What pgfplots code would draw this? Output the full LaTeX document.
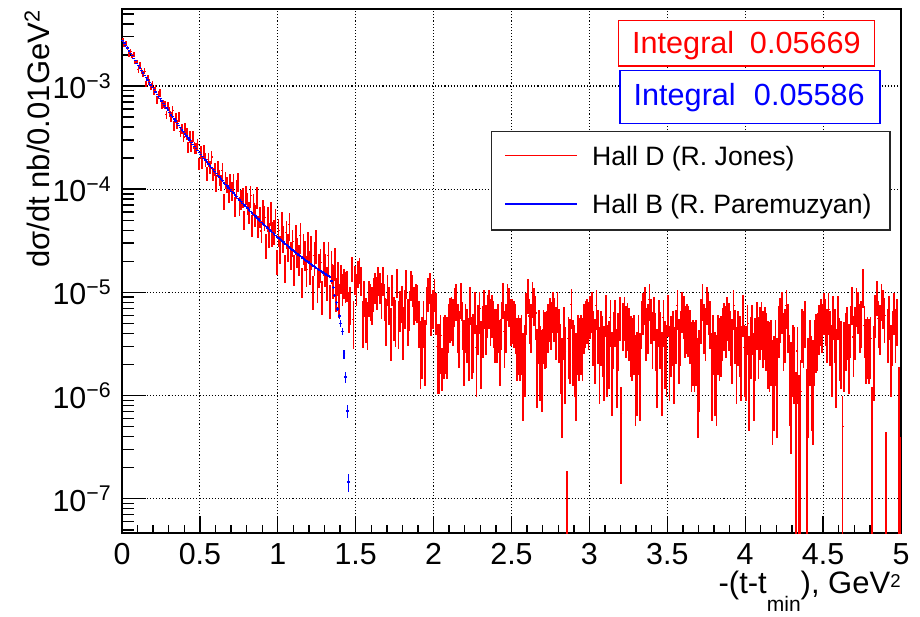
\documentclass[border=0pt]{standalone}
\usepackage{pgfplots}
\pgfplotsset{compat=1.18}
\usepackage{pgfplotstable}
\usetikzlibrary{plotmarks}
\usepackage{fontspec}
\setmainfont{Liberation Sans}
\definecolor{rootred}{RGB}{255,0,0}
\definecolor{rootblue}{RGB}{0,0,255}
\pgfplotstableread{
x v e
0.005 2.80e-3 1.4e-4
0.015 2.50e-3 1.25e-4
0.025 2.61e-3 1.3e-4
0.035 2.34e-3 1.17e-4
0.045 2.03e-3 1.0e-4
0.055 2.15e-3 1.07e-4
0.065 1.95e-3 9.7e-5
0.075 2.03e-3 1.0e-4
0.085 1.71e-3 8.5e-5
0.095 1.70e-3 8.5e-5
0.105 1.45e-3 1.0e-4
0.115 1.585e-3 1.1e-4
0.125 1.41e-3 9.9e-5
0.135 1.30e-3 9.1e-5
0.145 1.39e-3 9.7e-5
0.155 1.04e-3 7.3e-5
0.165 1.19e-3 8.3e-5
0.175 1.095e-3 7.7e-5
0.185 9.75e-4 6.8e-5
0.195 1.047e-3 7.3e-5
0.205 8.98e-4 8.1e-5
0.215 9.39e-4 8.5e-5
0.225 7.35e-4 6.6e-5
0.235 8.26e-4 7.4e-5
0.245 8.59e-4 7.7e-5
0.255 6.55e-4 5.9e-5
0.265 6.72e-4 6.0e-5
0.275 6.63e-4 6.0e-5
0.285 5.25e-4 4.7e-5
0.295 6.36e-4 5.7e-5
0.305 5.67e-4 6.2e-5
0.315 5.00e-4 5.5e-5
0.325 5.76e-4 6.3e-5
0.335 4.16e-4 4.6e-5
0.345 4.92e-4 5.4e-5
0.355 4.26e-4 4.7e-5
0.365 5.06e-4 5.6e-5
0.375 3.61e-4 4.0e-5
0.385 3.82e-4 4.2e-5
0.395 3.20e-4 3.5e-5
0.405 3.83e-4 5.0e-5
0.415 3.45e-4 4.5e-5
0.425 2.56e-4 3.3e-5
0.435 3.22e-4 4.2e-5
0.445 2.63e-4 3.4e-5
0.455 3.26e-4 4.2e-5
0.465 2.51e-4 3.3e-5
0.475 2.49e-4 3.2e-5
0.485 2.72e-4 3.5e-5
0.495 1.78e-4 2.3e-5
0.505 2.28e-4 3.4e-5
0.515 1.84e-4 2.8e-5
0.525 2.36e-4 3.5e-5
0.535 1.94e-4 2.9e-5
0.545 1.42e-4 2.1e-5
0.555 1.94e-4 2.9e-5
0.565 1.63e-4 2.4e-5
0.575 2.05e-4 3.1e-5
0.585 1.41e-4 2.1e-5
0.595 1.57e-4 2.4e-5
0.605 1.14e-4 2.1e-5
0.615 1.59e-4 2.9e-5
0.625 1.31e-4 2.4e-5
0.635 1.17e-4 2.1e-5
0.645 1.51e-4 2.7e-5
0.655 7.63e-5 1.4e-5
0.665 1.235e-4 2.2e-5
0.675 1.11e-4 2.0e-5
0.685 9.0e-5 1.6e-5
0.695 1.187e-4 2.1e-5
0.705 9.64e-5 2.0e-5
0.715 1.156e-4 2.4e-5
0.725 6.93e-5 1.5e-5
0.735 1.013e-4 2.1e-5
0.745 1.18e-4 2.5e-5
0.755 6.9e-5 1.45e-5
0.765 8.02e-5 1.7e-5
0.775 8.4e-5 1.76e-5
0.785 5.06e-5 1.06e-5
0.795 8.88e-5 1.86e-5
0.805 7.42e-5 1.78e-5
0.815 6.01e-5 1.44e-5
0.825 8.65e-5 2.08e-5
0.835 4.53e-5 1.09e-5
0.845 7.17e-5 1.72e-5
0.855 5.64e-5 1.35e-5
0.865 8.48e-5 2.03e-5
0.875 4.47e-5 1.07e-5
0.885 5.48e-5 1.31e-5
0.895 3.93e-5 9.4e-6
0.905 6.21e-5 1.68e-5
0.915 5.36e-5 1.45e-5
0.925 2.91e-5 7.9e-6
0.935 5.27e-5 1.42e-5
0.945 3.68e-5 9.9e-6
0.955 5.96e-5 1.61e-5
0.965 3.78e-5 1.02e-5
0.975 3.99e-5 1.08e-5
0.985 5.01e-5 1.35e-5
0.995 2.02e-5 5.5e-6
1.005 3.95e-5 1.19e-5
1.015 2.68e-5 8.0e-6
1.025 4.65e-5 1.39e-5
1.035 3.41e-5 1.02e-5
1.045 1.77e-5 5.3e-6
1.055 3.78e-5 1.13e-5
1.065 2.85e-5 8.6e-6
1.075 4.54e-5 1.36e-5
1.085 2.35e-5 7.0e-6
1.095 3.12e-5 9.4e-6
1.105 1.72e-5 5.7e-6
1.115 3.41e-5 1.13e-5
1.125 2.56e-5 8.4e-6
1.135 2.16e-5 7.1e-6
1.145 3.54e-5 1.17e-5
1.155 1.31e-5 4.3e-6
1.165 2.75e-5 9.1e-6
1.175 2.39e-5 7.9e-6
1.185 1.68e-5 5.5e-6
1.195 2.90e-5 9.6e-6
1.205 1.85e-5 6.7e-6
1.215 2.60e-5 9.4e-6
1.225 1.05e-5 3.8e-6
1.235 2.27e-5 8.2e-6
1.245 2.96e-5 1.07e-5
1.255 1.24e-5 4.5e-6
1.265 1.72e-5 6.2e-6
1.275 1.94e-5 7.0e-6
1.285 9.5e-6 3.4e-6
1.295 2.27e-5 8.2e-6
1.305 1.75e-5 6.3e-6
1.315 1.30e-5 4.7e-6
1.325 2.28e-5 8.2e-6
1.335 8.6e-6 3.1e-6
1.345 1.87e-5 6.7e-6
1.355 1.36e-5 4.9e-6
1.365 2.0e-5 7.0e-6
1.375 1.02e-5 3.7e-6
1.385 1.45e-5 5.2e-6
1.395 8.8e-6 3.2e-6
1.405 14.0e-6 4.27e-6
1.415 11.2e-6 3.8e-6
1.425 12.8e-6 4.08e-6
1.435 11.9e-6 3.93e-6
1.445 12.0e-6 3.95e-6
1.455 7.0e-6 3.0e-6
1.465 8.0e-6 3.2e-6
1.475 17.3e-6 4.7e-6
1.485 5.5e-6 2.67e-6
1.495 13.7e-6 4.2e-6
1.505 11.2e-6 3.8e-6
1.515 15.5e-6 4.5e-6
1.525 16.8e-6 4.67e-6
1.535 13.4e-6 4.17e-6
1.545 5.6e-6 2.7e-6
1.555 9.3e-6 3.48e-6
1.565 6.0e-6 2.79e-6
1.575 5.4e-6 2.65e-6
1.585 9.3e-6 3.48e-6
1.595 8.6e-6 3.35e-6
1.605 8.1e-6 3.24e-6
1.615 10.1e-6 3.62e-6
1.625 11.6e-6 3.89e-6
1.635 10.4e-6 3.68e-6
1.645 13.5e-6 4.19e-6
1.655 11.6e-6 3.89e-6
1.665 9.0e-6 3.42e-6
1.675 13.5e-6 4.19e-6
1.685 8.7e-6 3.36e-6
1.695 5.8e-6 2.75e-6
1.705 11.1e-6 3.8e-6
1.715 8.0e-6 3.22e-6
1.725 4.6e-6 2.45e-6
1.735 11.1e-6 3.8e-6
1.745 6.2e-6 2.84e-6
1.755 5.7e-6 2.72e-6
1.765 12.9e-6 4.1e-6
1.775 5.5e-6 2.67e-6
1.785 7.2e-6 3.06e-6
1.795 8.3e-6 3.28e-6
1.805 4.7e-6 2.47e-6
1.815 7.5e-6 3.12e-6
1.825 12.6e-6 4.05e-6
1.835 5.8e-6 2.75e-6
1.845 7.3e-6 3.08e-6
1.855 12.2e-6 3.98e-6
1.865 10.9e-6 3.76e-6
1.875 8.1e-6 3.24e-6
1.885 8.7e-6 3.36e-6
1.895 8.4e-6 3.3e-6
1.905 5.6e-6 2.7e-6
1.915 3.2e-6 2.04e-6
1.925 3.6e-6 2.16e-6
1.935 5.6e-6 2.7e-6
1.945 3.3e-6 2.07e-6
1.955 8.1e-6 3.24e-6
1.965 10.1e-6 3.62e-6
1.975 11.6e-6 3.89e-6
1.985 6.7e-6 2.95e-6
1.995 7.5e-6 3.12e-6
2.005 10.0e-6 3.61e-6
2.015 6.9e-6 3.0e-6
2.025 3.0e-6 1.97e-6
2.035 3.0e-6 1.97e-6
2.045 3.85e-6 2.24e-6
2.055 2.0e-6 0.9e-6
2.065 3.6e-6 2.16e-6
2.075 3.85e-6 2.24e-6
2.085 3.6e-6 2.16e-6
2.095 5.2e-6 2.6e-6
2.105 6.0e-6 2.79e-6
2.115 6.2e-6 2.84e-6
2.125 5.8e-6 2.75e-6
2.135 7.8e-6 3.18e-6
2.145 8.7e-6 3.36e-6
2.155 5.2e-6 2.6e-6
2.165 4.2e-6 2.34e-6
2.175 9.0e-6 3.42e-6
2.185 5.4e-6 2.65e-6
2.195 3.3e-6 2.07e-6
2.205 5.2e-6 2.6e-6
2.215 4.5e-6 2.42e-6
2.225 3.5e-6 2.13e-6
2.235 8.1e-6 3.24e-6
2.245 3.6e-6 2.16e-6
2.255 3.9e-6 2.25e-6
2.265 7.0e-6 3.02e-6
2.275 2.9e-6 1.94e-6
2.285 5.0e-6 2.55e-6
2.295 7.0e-6 3.02e-6
2.305 3.2e-6 2.04e-6
2.315 4.8e-6 2.5e-6
2.325 7.5e-6 3.12e-6
2.335 5.0e-6 2.55e-6
2.345 6.5e-6 2.91e-6
2.355 7.5e-6 3.12e-6
2.365 5.8e-6 2.75e-6
2.375 6.5e-6 2.91e-6
2.385 5.6e-6 2.7e-6
2.395 4.5e-6 2.42e-6
2.405 4.5e-6 2.42e-6
2.415 5.2e-6 2.6e-6
2.425 3.3e-6 2.07e-6
2.435 5.4e-6 2.65e-6
2.445 9.0e-6 3.42e-6
2.455 4.2e-6 2.34e-6
2.465 5.2e-6 2.6e-6
2.475 8.7e-6 3.36e-6
2.485 7.8e-6 3.18e-6
2.495 5.8e-6 2.75e-6
2.505 5.9e-6 2.77e-6
2.515 5.6e-6 2.7e-6
2.525 5.1e-6 2.57e-6
2.535 3.5e-6 2.13e-6
2.545 3.8e-6 2.22e-6
2.555 3.5e-6 2.13e-6
2.565 3.8e-6 2.22e-6
2.575 2.3e-6 1.73e-6
2.585 2.9e-6 1.94e-6
2.595 6.8e-6 2.97e-6
2.605 9.8e-6 3.57e-6
2.615 5.9e-6 2.77e-6
2.625 5.2e-6 2.6e-6
2.635 9.1e-6 3.44e-6
2.645 7.9e-6 3.2e-6
2.655 6.3e-6 2.86e-6
2.665 2.6e-6 1.84e-6
2.675 4.4e-6 2.39e-6
2.685 2.8e-6 1.91e-6
2.695 2.5e-6 1.8e-6
2.705 4.4e-6 2.39e-6
2.715 4.1e-6 2.31e-6
2.725 4.2e-6 2.34e-6
2.735 5.2e-6 2.6e-6
2.745 6.1e-6 2.82e-6
2.755 5.4e-6 2.65e-6
2.765 7.1e-6 3.04e-6
2.775 6.1e-6 2.82e-6
2.785 4.7e-6 2.47e-6
2.795 7.1e-6 3.04e-6
2.805 4.5e-6 2.42e-6
2.815 3.0e-6 1.97e-6
2.825 2.0e-6 1.61e-6
2.835 4.7e-6 2.47e-6
2.845 2.7e-6 1.87e-6
2.855 0.095e-6 0.09e-6
2.865 3.6e-6 2.16e-6
2.875 3.4e-6 2.1e-6
2.885 7.6e-6 3.14e-6
2.895 3.3e-6 2.07e-6
2.905 2.9e-6 1.94e-6
2.915 2.3e-6 1.73e-6
2.925 3.8e-6 2.22e-6
2.935 3.5e-6 2.13e-6
2.945 3.8e-6 2.22e-6
2.955 3.5e-6 2.13e-6
2.965 5.1e-6 2.57e-6
2.975 5.6e-6 2.7e-6
2.985 5.9e-6 2.77e-6
2.995 5.4e-6 2.65e-6
3.005 6.4e-6 2.88e-6
3.015 7.1e-6 3.04e-6
3.025 4.3e-6 2.36e-6
3.035 3.4e-6 2.1e-6
3.045 7.4e-6 3.1e-6
3.055 4.4e-6 2.39e-6
3.065 2.7e-6 1.87e-6
3.075 4.3e-6 2.36e-6
3.085 3.7e-6 2.19e-6
3.095 2.8e-6 1.91e-6
3.105 6.6e-6 2.93e-6
3.115 2.9e-6 1.94e-6
3.125 3.2e-6 2.04e-6
3.135 5.7e-6 2.72e-6
3.145 2.4e-6 1.77e-6
3.155 4.1e-6 2.31e-6
3.165 5.7e-6 2.72e-6
3.175 2.6e-6 1.84e-6
3.185 4.0e-6 2.28e-6
3.195 6.2e-6 2.84e-6
3.205 0.67e-6 0.53e-6
3.215 5.3e-6 2.62e-6
3.225 6.2e-6 2.84e-6
3.235 4.8e-6 2.5e-6
3.245 5.3e-6 2.62e-6
3.255 4.6e-6 2.45e-6
3.265 3.7e-6 2.19e-6
3.275 3.5e-6 2.13e-6
3.285 3.8e-6 2.22e-6
3.295 2.2e-6 1.69e-6
3.305 2.4e-6 1.77e-6
3.315 3.8e-6 2.22e-6
3.325 2.3e-6 1.73e-6
3.335 5.5e-6 2.67e-6
3.345 6.9e-6 3.0e-6
3.355 8.0e-6 3.22e-6
3.365 4.6e-6 2.45e-6
3.375 5.1e-6 2.57e-6
3.385 8.6e-6 3.34e-6
3.395 5.9e-6 2.77e-6
3.405 4.1e-6 2.31e-6
3.415 6.2e-6 2.84e-6
3.425 4.0e-6 2.28e-6
3.435 2.6e-6 1.84e-6
3.445 5.7e-6 2.72e-6
3.455 4.1e-6 2.31e-6
3.465 2.4e-6 1.77e-6
3.475 5.7e-6 2.72e-6
3.485 3.2e-6 2.04e-6
3.495 2.9e-6 1.94e-6
3.505 6.6e-6 2.93e-6
3.515 2.8e-6 1.91e-6
3.525 3.7e-6 2.19e-6
3.535 4.3e-6 2.36e-6
3.545 2.7e-6 1.87e-6
3.555 4.4e-6 2.39e-6
3.565 7.4e-6 3.1e-6
3.575 3.4e-6 2.1e-6
3.585 4.3e-6 2.36e-6
3.595 7.1e-6 3.04e-6
3.605 6.4e-6 2.88e-6
3.615 4.8e-6 2.5e-6
3.625 5.1e-6 2.57e-6
3.635 4.9e-6 2.52e-6
3.645 4.4e-6 2.39e-6
3.655 3.1e-6 2.01e-6
3.665 3.3e-6 2.07e-6
3.675 3.1e-6 2.01e-6
3.685 3.3e-6 2.07e-6
3.695 2.0e-6 1.61e-6
3.705 2.5e-6 1.8e-6
3.715 5.9e-6 2.77e-6
3.725 8.6e-6 3.34e-6
3.735 5.1e-6 2.57e-6
3.745 4.6e-6 2.45e-6
3.755 8.0e-6 3.22e-6
3.765 6.9e-6 3.0e-6
3.775 5.5e-6 2.67e-6
3.785 2.3e-6 1.73e-6
3.795 3.8e-6 2.22e-6
3.805 2.4e-6 1.77e-6
3.815 2.2e-6 1.69e-6
3.825 3.8e-6 2.22e-6
3.835 3.5e-6 2.13e-6
3.845 3.7e-6 2.19e-6
3.855 4.6e-6 2.45e-6
3.865 5.3e-6 2.62e-6
3.875 4.8e-6 2.5e-6
3.885 6.2e-6 2.84e-6
3.895 5.3e-6 2.62e-6
3.905 4.3e-6 2.36e-6
3.915 3.4e-6 2.1e-6
3.925 7.4e-6 3.1e-6
3.935 4.4e-6 2.39e-6
3.945 2.7e-6 1.87e-6
3.955 4.3e-6 2.36e-6
3.965 3.7e-6 2.19e-6
3.975 2.8e-6 1.91e-6
3.985 6.6e-6 2.93e-6
3.995 2.9e-6 1.94e-6
4.005 2.8e-6 1.91e-6
4.015 5.0e-6 2.55e-6
4.025 2.1e-6 1.65e-6
4.035 3.6e-6 2.16e-6
4.045 5.0e-6 2.55e-6
4.055 2.3e-6 1.73e-6
4.065 3.5e-6 2.13e-6
4.075 5.4e-6 2.65e-6
4.085 3.6e-6 2.16e-6
4.095 4.7e-6 2.47e-6
4.105 5.4e-6 2.65e-6
4.115 4.2e-6 2.34e-6
4.125 4.7e-6 2.47e-6
4.135 4.0e-6 2.28e-6
4.145 3.2e-6 2.04e-6
4.155 3.1e-6 2.01e-6
4.165 3.3e-6 2.07e-6
4.175 1.9e-6 1.57e-6
4.185 2.1e-6 1.65e-6
4.195 3.3e-6 2.07e-6
4.205 2.0e-6 1.61e-6
4.215 4.8e-6 2.5e-6
4.225 6.0e-6 2.79e-6
4.235 7.0e-6 3.02e-6
4.245 4.0e-6 2.28e-6
4.255 4.5e-6 2.42e-6
4.265 7.5e-6 3.12e-6
4.275 5.2e-6 2.6e-6
4.285 2.2e-6 1.69e-6
4.295 1.8e-6 1.53e-6
4.305 2.9e-6 1.94e-6
4.315 2.7e-6 1.87e-6
4.325 0.85e-6 0.85e-6
4.335 2.7e-6 1.87e-6
4.345 0.8e-6 0.8e-6
4.355 1.1e-6 1.1e-6
4.365 4.5e-6 2.42e-6
4.375 4.2e-6 2.34e-6
4.385 5.6e-6 2.7e-6
4.395 0.9e-6 0.9e-6
4.405 2.0e-6 1.61e-6
4.415 3.3e-6 2.07e-6
4.425 2.1e-6 1.65e-6
4.435 1.9e-6 1.57e-6
4.445 3.3e-6 2.07e-6
4.455 3.9e-6 2.25e-6
4.465 4.0e-6 2.28e-6
4.475 5.0e-6 2.55e-6
4.485 5.8e-6 2.75e-6
4.495 5.2e-6 2.6e-6
4.505 6.8e-6 2.97e-6
4.515 5.8e-6 2.75e-6
4.525 4.5e-6 2.42e-6
4.535 6.8e-6 2.97e-6
4.545 4.3e-6 2.36e-6
4.555 2.9e-6 1.94e-6
4.565 6.3e-6 2.86e-6
4.575 4.5e-6 2.42e-6
4.585 2.6e-6 1.84e-6
4.595 6.3e-6 2.86e-6
4.605 3.5e-6 2.13e-6
4.615 3.2e-6 2.04e-6
4.625 0.5e-6 0.5e-6
4.635 3.1e-6 2.01e-6
4.645 4.0e-6 2.28e-6
4.655 4.7e-6 2.47e-6
4.665 3.0e-6 1.97e-6
4.675 4.8e-6 2.5e-6
4.685 8.1e-6 3.24e-6
4.695 3.7e-6 2.19e-6
4.705 4.7e-6 2.47e-6
4.715 7.8e-6 3.18e-6
4.725 7.0e-6 3.02e-6
4.735 5.2e-6 2.6e-6
4.745 5.6e-6 2.7e-6
4.755 12.0e-6 5.0e-6
4.765 4.8e-6 2.5e-6
4.775 3.4e-6 2.1e-6
4.785 3.6e-6 2.16e-6
4.795 3.4e-6 2.1e-6
4.805 3.6e-6 2.16e-6
4.815 0.6e-6 0.6e-6
4.825 2.8e-6 1.91e-6
4.835 6.5e-6 2.91e-6
4.845 9.4e-6 3.5e-6
4.855 5.6e-6 2.7e-6
4.865 5.0e-6 2.55e-6
4.875 8.7e-6 3.36e-6
4.885 7.5e-6 3.12e-6
4.895 6.0e-6 2.79e-6
4.905 0.22e-6 0.22e-6
4.915 4.5e-6 2.42e-6
4.925 6.3e-6 2.86e-6
4.935 2.9e-6 1.94e-6
4.945 4.3e-6 2.36e-6
4.955 6.8e-6 2.97e-6
4.965 4.5e-6 2.42e-6
4.975 5.8e-6 2.75e-6
4.985 0.95e-6 0.95e-6
4.995 0.2e-6 0.2e-6
}\reddata
\pgfplotstableread{
x v r
0.005 2.757e-3 0.015
0.015 2.605e-3 0.015
0.025 2.462e-3 0.015
0.035 2.326e-3 0.015
0.045 2.197e-3 0.015
0.055 2.077e-3 0.015
0.065 1.965e-3 0.015
0.075 1.858e-3 0.015
0.085 1.759e-3 0.015
0.095 1.663e-3 0.015
0.105 1.573e-3 0.015
0.115 1.491e-3 0.015
0.125 1.412e-3 0.015
0.135 1.338e-3 0.015
0.145 1.267e-3 0.015
0.155 1.200e-3 0.015
0.165 1.139e-3 0.015
0.175 1.080e-3 0.015
0.185 1.025e-3 0.015
0.195 9.72e-4 0.015
0.205 9.225e-4 0.015
0.215 8.761e-4 0.015
0.225 8.323e-4 0.015
0.235 7.906e-4 0.015
0.245 7.508e-4 0.015
0.255 7.132e-4 0.015
0.265 6.783e-4 0.015
0.275 6.452e-4 0.015
0.285 6.137e-4 0.015
0.295 5.837e-4 0.015
0.305 5.551e-4 0.015
0.315 5.287e-4 0.015
0.325 5.036e-4 0.015
0.335 4.797e-4 0.015
0.345 4.569e-4 0.015
0.355 4.351e-4 0.015
0.365 4.150e-4 0.015
0.375 3.957e-4 0.015
0.385 3.774e-4 0.015
0.395 3.599e-4 0.015
0.405 3.432e-4 0.015
0.415 3.278e-4 0.015
0.425 3.130e-4 0.015
0.435 2.990e-4 0.015
0.445 2.855e-4 0.015
0.455 2.727e-4 0.015
0.465 2.608e-4 0.015
0.475 2.493e-4 0.015
0.485 2.384e-4 0.015
0.495 2.279e-4 0.015
0.505 2.180e-4 0.015
0.515 2.087e-4 0.015
0.525 1.998e-4 0.015
0.535 1.913e-4 0.015
0.545 1.832e-4 0.015
0.555 1.754e-4 0.015
0.565 1.682e-4 0.015
0.575 1.613e-4 0.015
0.585 1.546e-4 0.015
0.595 1.483e-4 0.015
0.605 1.422e-4 0.015
0.615 1.365e-4 0.015
0.625 1.310e-4 0.015
0.635 1.258e-4 0.015
0.645 1.208e-4 0.015
0.655 1.160e-4 0.015
0.665 1.115e-4 0.015
0.675 1.072e-4 0.015
0.685 1.030e-4 0.015
0.695 9.906e-5 0.015
0.705 9.524e-5 0.015
0.715 9.169e-5 0.015
0.725 8.824e-5 0.015
0.735 8.494e-5 0.015
0.745 8.179e-5 0.015
0.755 7.873e-5 0.015
0.765 7.588e-5 0.015
0.775 7.314e-5 0.015
0.785 7.050e-5 0.015
0.795 6.797e-5 0.015
0.805 6.551e-5 0.015
0.815 6.323e-5 0.015
0.825 6.104e-5 0.015
0.835 5.891e-5 0.015
0.845 5.687e-5 0.015
0.855 5.489e-5 0.015
0.865 5.305e-5 0.015
0.875 5.127e-5 0.015
0.885 4.956e-5 0.015
0.895 4.790e-5 0.015
0.905 4.630e-5 0.015
0.915 4.481e-5 0.015
0.925 4.336e-5 0.015
0.935 4.197e-5 0.015
0.945 4.062e-5 0.015
0.955 3.931e-5 0.015
0.965 3.810e-5 0.015
0.975 3.692e-5 0.015
0.985 3.578e-5 0.015
0.995 3.467e-5 0.015
1.005 3.359e-5 0.025
1.015 3.260e-5 0.025
1.025 3.164e-5 0.025
1.035 3.070e-5 0.025
1.045 2.979e-5 0.025
1.055 2.891e-5 0.025
1.065 2.809e-5 0.025
1.075 2.730e-5 0.025
1.085 2.652e-5 0.025
1.095 2.578e-5 0.025
1.105 2.504e-5 0.025
1.115 2.437e-5 0.025
1.125 2.371e-5 0.025
1.135 2.307e-5 0.025
1.145 2.244e-5 0.025
1.155 2.184e-5 0.025
1.165 2.128e-5 0.025
1.175 2.073e-5 0.025
1.185 2.020e-5 0.025
1.195 1.968e-5 0.025
1.205 1.917e-5 0.025
1.215 1.871e-5 0.025
1.225 1.825e-5 0.025
1.235 1.780e-5 0.025
1.245 1.737e-5 0.025
1.255 1.694e-5 0.025
1.265 1.655e-5 0.025
1.275 1.617e-5 0.025
1.285 1.579e-5 0.025
1.295 1.543e-5 0.025
1.305 1.507e-5 0.025
1.315 1.472e-5 0.025
1.325 1.439e-5 0.025
1.335 1.409e-5 0.025
1.345 1.288e-5 0.03
1.355 1.122e-5 0.035
1.365 9.33e-6 0.04
1.375 7.94e-6 0.045
1.385 6.92e-6 0.05
1.395 5.89e-6 0.06
1.405 5.01e-6 0.07
1.415 4.17e-6 0.08
1.425 2.54e-6 0.10
1.435 1.51e-6 0.12
1.445 7.08e-7 0.15
1.455 1.45e-7 0.20
}\bluedata
\begin{document}
\begin{tikzpicture}
\useasboundingbox (-61pt,-41.5pt) rectangle (399pt,266.5pt);
\begin{axis}[
  at={(0pt,0pt)}, anchor=south west,
  scale only axis, width=389.5pt, height=262pt,
  ymode=log, xmin=0, xmax=5, ymin=4.66e-8, ymax=5.57e-3,
  xtick={0,0.5,1,1.5,2,2.5,3,3.5,4,4.5,5},
  xticklabels={0,0.5,1,1.5,2,2.5,3,3.5,4,4.5,5},
  minor x tick num=4,
  ytick={1e-7,1e-6,1e-5,1e-4,1e-3},
  yticklabels={10\textsuperscript{−7},10\textsuperscript{−6},10\textsuperscript{−5},10\textsuperscript{−4},10\textsuperscript{−3}},
  minor ytick={5e-8,6e-8,7e-8,8e-8,9e-8,2e-7,3e-7,4e-7,5e-7,6e-7,7e-7,8e-7,9e-7,2e-6,3e-6,4e-6,5e-6,6e-6,7e-6,8e-6,9e-6,2e-5,3e-5,4e-5,5e-5,6e-5,7e-5,8e-5,9e-5,2e-4,3e-4,4e-4,5e-4,6e-4,7e-4,8e-4,9e-4,2e-3,3e-3,4e-3,5e-3},
  tick align=inside, xtick pos=bottom, ytick pos=left,
  major tick length=8.5pt, minor tick length=4pt,
  ytick style={/pgfplots/major tick length=12pt,/pgfplots/minor tick length=6pt},
  tick style={black, line width=0.7pt},
  grid=major,
  major grid style={black, line width=0.55pt, dash pattern=on 0.55pt off 1pt},
  axis line style={black, line width=0.9pt},
  ticklabel style={font=\fontsize{15.2}{17}\selectfont},
  xticklabel style={anchor=north, inner sep=0pt, yshift=-5pt},
  yticklabel style={anchor=east, inner sep=0pt, xshift=-5pt},
]
\addplot[rootred, only marks, mark=-, mark size=0.5pt, mark options={line width=0.6pt},
  error bars/.cd, y dir=both, y explicit, error mark=none,
  error bar style={line width=0.85pt, rootred}]
  table[x=x, y=v, y error plus=e, y error minus expr={min(\thisrow{e},0.999*\thisrow{v})}] {\reddata};
\addplot[rootblue, only marks, mark=-, mark size=0.7pt, mark options={line width=0.65pt},
  error bars/.cd, y dir=both, y explicit relative, error mark=none,
  error bar style={line width=0.6pt, rootblue}]
  table[x=x, y=v, y error=r] {\bluedata};
\end{axis}
\node[rotate=90, anchor=base east, inner sep=0pt, font=\fontsize{15.5}{18}\selectfont] at (-36pt,261.8pt) {dσ/dt nb/0.01GeV\textsuperscript{2}};
\node[anchor=base east, inner sep=0pt, font=\fontsize{15.5}{18}\selectfont] at (389.5pt,-30pt) {-(t-t\raisebox{-9pt}{\fontsize{10.5}{12}\selectfont min}), GeV\raisebox{3pt}{\fontsize{9.3}{10}\selectfont 2}};
\draw[rootred, line width=0.75pt, fill=white] (248.2pt,233.5pt) rectangle (376.2pt,256.2pt);
\node[rootred, anchor=base west, inner sep=0pt, font=\fontsize{15.3}{18}\selectfont] at (254.9pt,239.9pt) {Integral};
\node[rootred, anchor=base east, inner sep=0pt, font=\fontsize{15.3}{18}\selectfont] at (369.5pt,239.9pt) {0.05669};
\draw[rootblue, line width=0.75pt, fill=white] (249pt,204.85pt) rectangle (379pt,231.15pt);
\node[rootblue, anchor=base west, inner sep=0pt, font=\fontsize{15.3}{18}\selectfont] at (255.65pt,213.5pt) {Integral};
\node[rootblue, anchor=base east, inner sep=0pt, font=\fontsize{15.3}{18}\selectfont] at (371.5pt,213.5pt) {0.05586};
\draw[black!85, line width=0.75pt, fill=white] (184.85pt,151.5pt) rectangle (384pt,200.65pt);
\draw[rootred, line width=0.6pt] (191.5pt,188.65pt) -- (227.35pt,188.65pt);
\node[anchor=base west, inner sep=0pt, font=\fontsize{13.3}{16}\selectfont] at (234.85pt,183.65pt) {Hall D (R. Jones)};
\draw[rootblue, line width=0.6pt] (191.5pt,164.5pt) -- (227.35pt,164.5pt);
\node[anchor=base west, inner sep=0pt, font=\fontsize{13.3}{16}\selectfont] at (234.85pt,159.85pt) {Hall B (R. Paremuzyan)};
\end{tikzpicture}
\end{document}
